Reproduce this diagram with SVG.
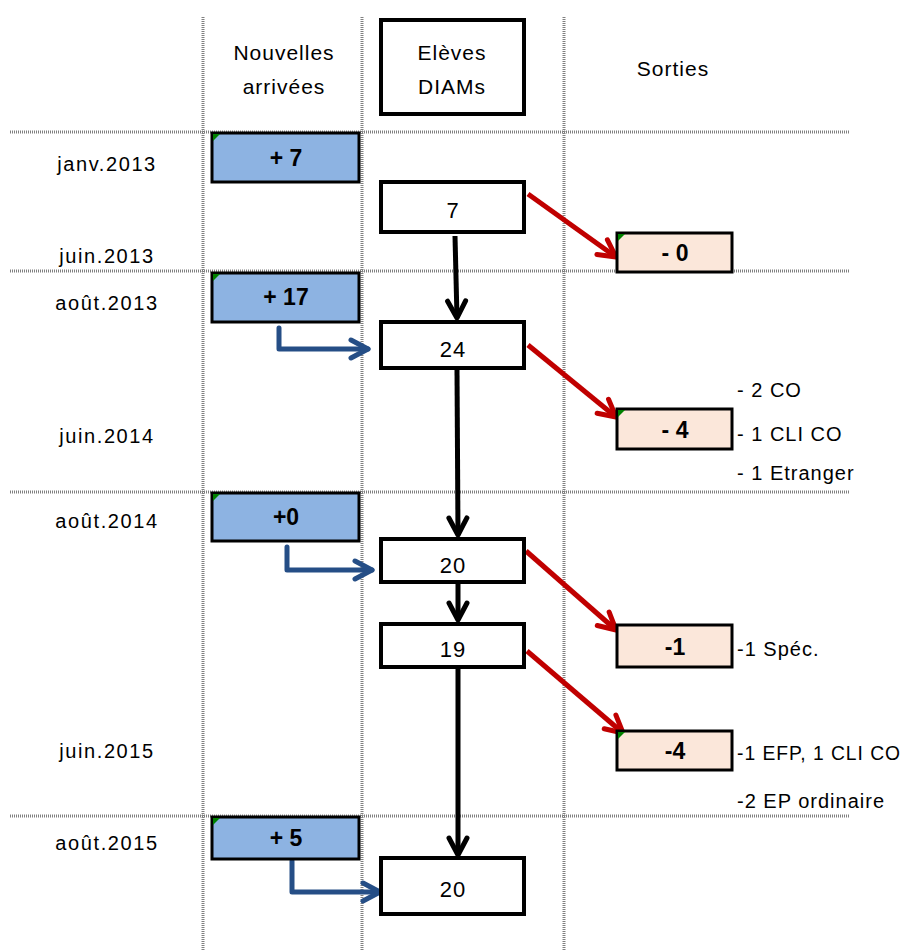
<svg xmlns="http://www.w3.org/2000/svg" width="906" height="951" viewBox="0 0 906 951">
<style>
text{font-family:"Liberation Sans","Open Sans",sans-serif;fill:#000}
.lbl{font-size:20px;letter-spacing:1.6px}
.nt{font-size:20px;letter-spacing:1px}
.hd{font-size:21px;letter-spacing:1px;text-anchor:middle}
.num{font-size:22px;text-anchor:middle;letter-spacing:1px}
.bn{font-size:23px;font-weight:bold;text-anchor:middle}
.grid{stroke:#808080;stroke-width:3;stroke-dasharray:1 1;fill:none}
.box{fill:#fff;stroke:#000;stroke-width:4}
.inb{fill:#8db3e2;stroke:#000;stroke-width:3}
.outb{fill:#fbe7da;stroke:#000;stroke-width:3}
.tri{fill:#008000}
.blk{stroke:#000;stroke-width:5;fill:none;marker-end:url(#ab)}
.red{stroke:#c00000;stroke-width:5;fill:none;marker-end:url(#ar)}
.blu{stroke:#254e86;stroke-width:5;fill:none;stroke-linejoin:round;stroke-linecap:round;marker-end:url(#au)}
</style>
<defs>
<marker id="ab" markerUnits="userSpaceOnUse" viewBox="0 0 24 24" markerWidth="24" markerHeight="24" refX="21" refY="12" orient="auto"><path d="M4,3 L21,12 L4,21" fill="none" stroke="#000" stroke-width="5" stroke-linecap="round" stroke-linejoin="round"/></marker>
<marker id="ar" markerUnits="userSpaceOnUse" viewBox="0 0 24 24" markerWidth="24" markerHeight="24" refX="21" refY="12" orient="auto"><path d="M4,3 L21,12 L4,21" fill="none" stroke="#c00000" stroke-width="5" stroke-linecap="round" stroke-linejoin="round"/></marker>
<marker id="au" markerUnits="userSpaceOnUse" viewBox="0 0 24 24" markerWidth="24" markerHeight="24" refX="21" refY="12" orient="auto"><path d="M4,3 L21,12 L4,21" fill="none" stroke="#254e86" stroke-width="5" stroke-linecap="round" stroke-linejoin="round"/></marker>
</defs>
<rect width="906" height="951" fill="#fff"/>
<g id="grid">
<line class="grid" x1="203" y1="17" x2="203" y2="951"/>
<line class="grid" x1="362" y1="17" x2="362" y2="951"/>
<line class="grid" x1="564" y1="17" x2="564" y2="951"/>
<line class="grid" x1="10" y1="132" x2="850" y2="132"/>
<line class="grid" x1="10" y1="271" x2="850" y2="271"/>
<line class="grid" x1="10" y1="492" x2="850" y2="492"/>
<line class="grid" x1="10" y1="816" x2="850" y2="816"/>
</g>
<g id="headers">
<text class="hd" x="284" y="60">Nouvelles</text>
<text class="hd" x="284" y="94">arrivées</text>
<g id="hdr-diams"><rect class="box" x="381" y="20" width="143" height="94"/>
<text class="hd" x="452" y="60">Elèves</text>
<text class="hd" x="452" y="94">DIAMs</text></g>
<text class="hd" x="673" y="76">Sorties</text>
</g>
<g id="dates">
<text class="lbl" x="107" y="171" text-anchor="middle">janv.2013</text>
<text class="lbl" x="107" y="263" text-anchor="middle">juin.2013</text>
<text class="lbl" x="107" y="310" text-anchor="middle">août.2013</text>
<text class="lbl" x="107" y="443" text-anchor="middle">juin.2014</text>
<text class="lbl" x="107" y="528" text-anchor="middle">août.2014</text>
<text class="lbl" x="107" y="758" text-anchor="middle">juin.2015</text>
<text class="lbl" x="107" y="850" text-anchor="middle">août.2015</text>
</g>
<g id="connectors">
<line class="blk" x1="455" y1="236" x2="457" y2="318"/>
<line class="blk" x1="457" y1="370" x2="458" y2="535"/>
<line class="blk" x1="458" y1="584" x2="458" y2="620"/>
<line class="blk" x1="458" y1="669" x2="458" y2="855"/>
<line class="red" x1="528" y1="194" x2="616" y2="257"/>
<line class="red" x1="528" y1="345" x2="616" y2="417"/>
<line class="red" x1="526" y1="551" x2="616" y2="630"/>
<line class="red" x1="527" y1="651" x2="623" y2="733"/>
<polyline class="blu" points="279,328 279,349 368,349"/>
<polyline class="blu" points="287,547 287,570 372,570"/>
<polyline class="blu" points="292,861 292,892 380,892"/>
</g>
<g id="in-2013-01"><rect class="inb" x="212" y="133" width="147" height="49"/><path class="tri" d="M213,134 h7 l-7,7z"/><text class="bn" x="286" y="166">+ 7</text></g>
<g id="in-2013-08"><rect class="inb" x="212" y="273" width="147" height="49"/><path class="tri" d="M213,274 h7 l-7,7z"/><text class="bn" x="286" y="305">+ 17</text></g>
<g id="in-2014-08"><rect class="inb" x="212" y="493" width="147" height="48"/><path class="tri" d="M213,494 h7 l-7,7z"/><text class="bn" x="286" y="525">+0</text></g>
<g id="in-2015-08"><rect class="inb" x="212" y="817" width="147" height="42"/><path class="tri" d="M213,818 h7 l-7,7z"/><text class="bn" x="286" y="846">+ 5</text></g>
<g id="n7"><rect class="box" x="381" y="182" width="143" height="50"/><text class="num" x="453" y="218">7</text></g>
<g id="n24"><rect class="box" x="381" y="322" width="143" height="46"/><text class="num" x="453" y="357">24</text></g>
<g id="n20a"><rect class="box" x="381" y="539" width="143" height="43"/><text class="num" x="453" y="573">20</text></g>
<g id="n19"><rect class="box" x="381" y="624" width="143" height="43"/><text class="num" x="453" y="657">19</text></g>
<g id="n20b"><rect class="box" x="381" y="858" width="143" height="56"/><text class="num" x="453" y="897">20</text></g>
<g id="out-0"><rect class="outb" x="617" y="233" width="115" height="39"/><path class="tri" d="M618,234 h7 l-7,7z"/><text class="bn" x="675" y="261">- 0</text></g>
<g id="out-4a"><rect class="outb" x="617" y="409" width="115" height="40"/><path class="tri" d="M618,410 h7 l-7,7z"/><text class="bn" x="675" y="438">- 4</text></g>
<g id="out-1"><rect class="outb" x="617" y="625" width="115" height="42"/><text class="bn" x="675" y="655">-1</text></g>
<g id="out-4b"><rect class="outb" x="617" y="731" width="115" height="39"/><path class="tri" d="M618,732 h7 l-7,7z"/><text class="bn" x="675" y="759">-4</text></g>
<g id="notes">
<text class="nt" x="737" y="397">- 2 CO</text>
<text class="nt" x="737" y="441">- 1 CLI CO</text>
<text class="nt" x="737" y="480">- 1 Etranger</text>
<text class="nt" x="737" y="656">-1 Spéc.</text>
<text class="nt" x="737" y="760" textLength="164" lengthAdjust="spacingAndGlyphs">-1 EFP, 1 CLI CO</text>
<text class="nt" x="737" y="808">-2 EP ordinaire</text>
</g>
</svg>
